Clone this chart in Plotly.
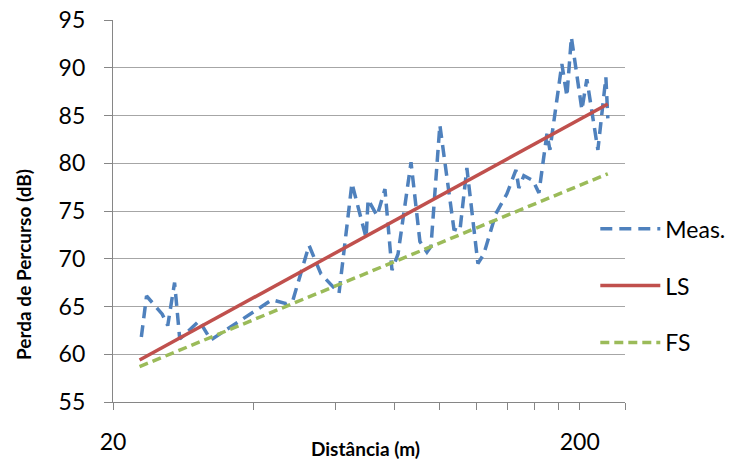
import plotly.graph_objects as go

# ---- data ----
meas_dist = [23.0, 23.6, 25.5, 26.2, 27.1, 27.8, 30.6, 32.4, 43.8, 47.0,
             48.6, 52.6, 55.8, 58.1, 61.0, 65.0, 69.7, 70.4, 73.6, 76.5,
             79.2, 81.6, 87.0, 90.9, 94.1, 96.0, 100.3, 107.5, 110.7, 114.6,
             121.0, 124.6, 132.2, 139.6, 146.0, 148.1, 151.8, 158.7, 163.5, 170.1,
             172.6, 183.1, 187.7, 191.9, 199.1, 202.1, 207.1, 218.7, 227.5, 229.7]
meas_db = [61.8, 66.1, 64.2, 63.0, 67.5, 61.6, 63.5, 61.5, 65.7, 65.3,
           65.7, 71.4, 68.4, 67.5, 66.4, 77.9, 72.2, 76.2, 74.5, 77.3,
           68.8, 70.5, 80.1, 71.8, 70.7, 71.3, 84.0, 73.1, 72.9, 79.5,
           69.5, 70.5, 74.7, 76.8, 79.3, 77.4, 78.7, 78.2, 76.9, 83.1,
           81.4, 90.4, 87.0, 93.2, 88.2, 85.6, 88.8, 81.4, 89.0, 84.7]

ls_dist = [22.8, 229.7]
ls_db = [59.4, 86.2]

fs_dist = [22.8, 229.7]
fs_db = [58.7, 78.9]

x_tick_vals = [20, 200]
x_tick_text = ["20", "200"]
x_minor_vals = [40, 60, 80, 100, 120, 140, 160, 180, 250]

FONT = "Lato"
GRID = "#A6A6A6"
AXIS = "#868686"

fig = go.Figure()
fig.add_trace(go.Scatter(x=meas_dist, y=meas_db, mode="lines", name="Meas.",
                         legendgroup="a",
                         line=dict(color="#4F81BD", width=3.5, dash="12px,7px")))
fig.add_trace(go.Scatter(x=ls_dist, y=ls_db, mode="lines", name="LS",
                         legendgroup="b",
                         line=dict(color="#C0504D", width=3.5)))
fig.add_trace(go.Scatter(x=fs_dist, y=fs_db, mode="lines", name="FS",
                         legendgroup="c",
                         line=dict(color="#9BBB59", width=3.5, dash="9px,5px")))

fig.update_layout(
    width=744, height=462,
    margin=dict(l=113, r=119, t=20, b=60, autoexpand=False),
    paper_bgcolor="white", plot_bgcolor="white",
    font=dict(family=FONT, size=23, color="black"),
    showlegend=True,
    legend=dict(x=0.942, y=0.51, xanchor="left", yanchor="top",
                font=dict(family=FONT, size=23, color="black"),
                itemwidth=60, tracegroupgap=24, bgcolor="rgba(0,0,0,0)",
                traceorder="grouped"),
    xaxis=dict(type="log", range=[1.30103, 2.39794],
               tickmode="array", tickvals=x_tick_vals, ticktext=x_tick_text,
               ticks="outside", ticklen=7, tickwidth=1.3, tickcolor=AXIS,
               ticklabelstandoff=12,
               minor=dict(tickmode="array", tickvals=x_minor_vals, ticks="outside",
                          ticklen=7, tickwidth=1.3, tickcolor=AXIS, showgrid=False),
               showgrid=False, showline=True, linecolor=AXIS, linewidth=1.3,
               zeroline=False, tickfont=dict(family=FONT, size=23, color="black")),
    yaxis=dict(range=[55, 95], dtick=5, tick0=55,
               ticks="outside", ticklen=8, tickwidth=1.3, tickcolor=AXIS,
               ticklabelstandoff=14,
               showgrid=True, gridcolor=GRID, gridwidth=1.3,
               showline=True, linecolor=AXIS, linewidth=1.3,
               zeroline=False, tickfont=dict(family=FONT, size=23, color="black")),
    annotations=[
        dict(text="<b>Perda de Percurso (dB)</b>", xref="paper", yref="paper",
             x=-0.176, y=0.361, textangle=-90, showarrow=False,
             font=dict(family=FONT, size=19, color="black"),
             xanchor="center", yanchor="middle"),
        dict(text="<b>Distância (m)</b>", xref="paper", yref="paper",
             x=0.494, y=-0.123, showarrow=False,
             font=dict(family=FONT, size=19, color="black"),
             xanchor="center", yanchor="middle"),
    ],
)

fig.write_html("out.html")
